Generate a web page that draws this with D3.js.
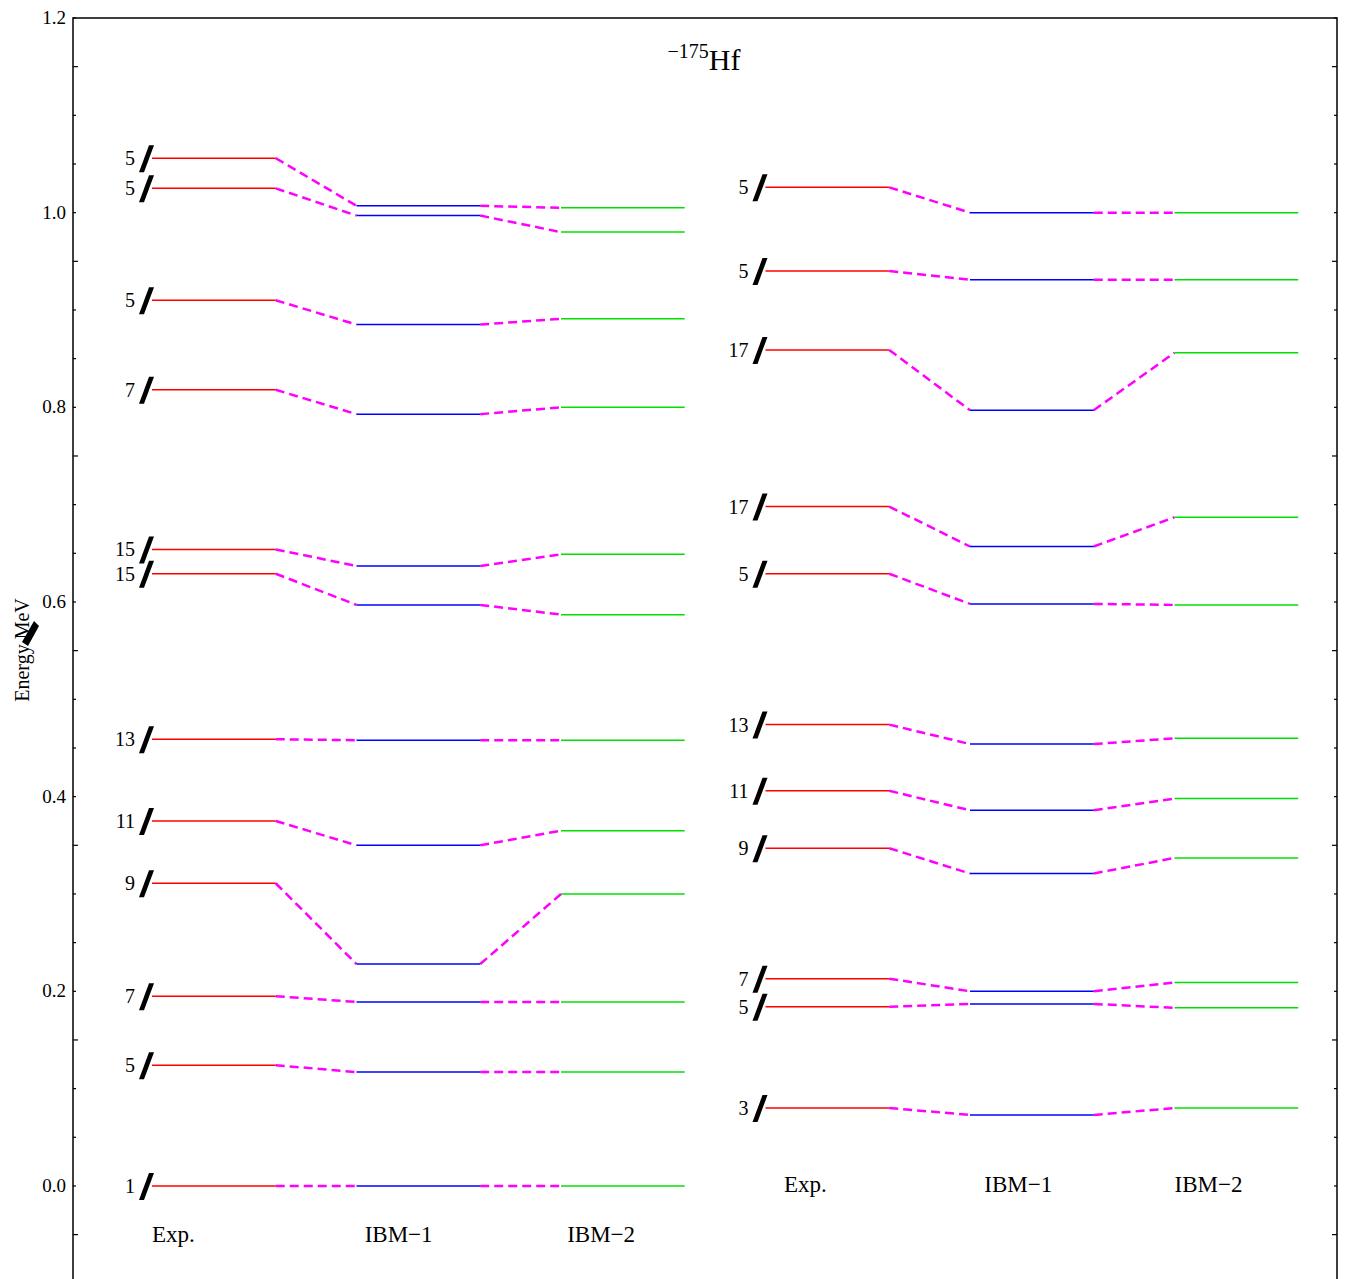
<!DOCTYPE html>
<html>
<head>
<meta charset="utf-8">
<script src="https://cdn.jsdelivr.net/npm/d3@7"></script>
<style>
  body { margin: 0; background: #fff; }
  svg text { font-family: "Liberation Serif", "DejaVu Serif", serif; fill: #000; }
</style>
</head>
<body>
<script>
// level data, energies in MeV
// left panel
const leftSpins = ["5", "5", "5", "7", "15", "15", "13", "11", "9", "7", "5", "1"];
const leftExp  = [1.056, 1.025, 0.910, 0.818, 0.654, 0.629, 0.459, 0.375, 0.311, 0.195, 0.124, 0.000];
const leftIbm1 = [1.007, 0.997, 0.885, 0.793, 0.637, 0.597, 0.458, 0.350, 0.228, 0.189, 0.117, 0.000];
const leftIbm2 = [1.005, 0.980, 0.891, 0.800, 0.649, 0.587, 0.458, 0.365, 0.300, 0.189, 0.117, 0.000];

// right panel
const rightSpins = ["5", "5", "17", "17", "5", "13", "11", "9", "7", "5", "3"];
const rightExp  = [1.026, 0.940, 0.859, 0.698, 0.629, 0.474, 0.406, 0.347, 0.213, 0.184, 0.080];
const rightIbm1 = [1.000, 0.931, 0.797, 0.657, 0.598, 0.454, 0.386, 0.321, 0.200, 0.187, 0.073];
const rightIbm2 = [1.000, 0.931, 0.856, 0.687, 0.597, 0.460, 0.398, 0.337, 0.209, 0.183, 0.080];

const colNames = ["Exp.", "IBM\u22121", "IBM\u22122"];
const yTicks = [0.0, 0.2, 0.4, 0.6, 0.8, 1.0, 1.2];

// dimensions
var width = 1346, height = 1279;
var frame = {left: 73, right: 1337, top: 18};

var svg = d3.select("body").append("svg")
    .attr("width", width)
    .attr("height", height);

var y = d3.scaleLinear().domain([-0.0956, 1.2]).range([1279, frame.top]);
// six level columns, evenly spaced (3 per panel)
var x = d3.scaleLinear().domain([0, 6]).range([152, 1379]);
const colW = 0.605;

// frame
svg.append("path")
    .attr("d", "M" + frame.left + "," + (height + 5) + "V" + frame.top + "H" + frame.right + "V" + (height + 5))
    .attr("fill", "none")
    .attr("stroke", "#000")
    .attr("stroke-width", 1.5);

// ticks (pointing inward on both sides), minor every 0.05
var minor = d3.range(-1, 25).map(function(i) { return i * 0.05; });
minor.forEach(function(v, i) {
    var len = (i + 1) % 4 === 1 ? 5 : 3;
    svg.append("line")
        .attr("x1", frame.left).attr("x2", frame.left + len)
        .attr("y1", y(v)).attr("y2", y(v))
        .attr("stroke", "#000").attr("stroke-width", 1.2);
    svg.append("line")
        .attr("x1", frame.right).attr("x2", frame.right - len)
        .attr("y1", y(v)).attr("y2", y(v))
        .attr("stroke", "#000").attr("stroke-width", 1.2);
});

svg.selectAll(".ytick")
    .data(yTicks)
    .enter()
    .append("text")
    .attr("class", "ytick")
    .attr("x", frame.left - 7)
    .attr("y", function(d) { return y(d) + 6; })
    .attr("text-anchor", "end")
    .style("font-size", "19px")
    .text(function(d) { return d.toFixed(1); });

// y axis label
var yl = svg.append("g").attr("transform", "translate(29,650) rotate(-90)");
yl.append("text")
    .attr("text-anchor", "middle")
    .style("font-size", "20px")
    .text("Energy MeV");
svg.append("path")
    .attr("d", "M22,642 L34,621 L39,626 L28,646 Z")
    .attr("fill", "#000");

// title
var title = svg.append("text")
    .attr("x", 704)
    .attr("y", 70)
    .attr("text-anchor", "middle");
title.append("tspan").style("font-size", "20px").attr("dy", "-12").text("\u2212175");
title.append("tspan").style("font-size", "30px").attr("dy", "12").text("Hf");

// draw one panel
function drawPanel(col0, spins, exp, ibm1, ibm2) {
    var series = [exp, ibm1, ibm2];
    var colors = ["#ff0000", "#0000ff", "#00e000"];
    var g = svg.append("g");

    // connectors
    exp.forEach(function(d, i) {
        for (var k = 0; k < 2; k++) {
            g.append("line")
                .attr("x1", x(col0 + k + colW))
                .attr("y1", y(series[k][i]))
                .attr("x2", x(col0 + k + 1))
                .attr("y2", y(series[k + 1][i]))
                .attr("stroke", "#ff00ff")
                .attr("stroke-width", 2.5)
                .attr("stroke-dasharray", "9,5");
        }
    });

    // levels
    series.forEach(function(s, k) {
        g.selectAll(".lvl" + k)
            .data(s)
            .enter()
            .append("line")
            .attr("x1", x(col0 + k))
            .attr("x2", x(col0 + k + colW))
            .attr("y1", function(d) { return y(d); })
            .attr("y2", function(d) { return y(d); })
            .attr("stroke", colors[k])
            .attr("stroke-width", 1.5);
    });

    // spin labels: number + heavy slash
    var x0 = x(col0);
    exp.forEach(function(d, i) {
        var ly = y(d);
        g.append("text")
            .attr("x", x0 - 17)
            .attr("y", ly + 7)
            .attr("text-anchor", "end")
            .style("font-size", "20px")
            .text(spins[i]);
        g.append("path")
            .attr("d", "M" + (x0 - 3) + "," + (ly - 13) +
                       "L" + (x0 + 2) + "," + (ly - 13) +
                       "L" + (x0 - 8) + "," + (ly + 14) +
                       "L" + (x0 - 13) + "," + (ly + 14) + "Z")
            .attr("fill", "#000");
    });
}

drawPanel(0, leftSpins, leftExp, leftIbm1, leftIbm2);
drawPanel(3, rightSpins, rightExp, rightIbm1, rightIbm2);

// column labels
const colLabelPos = [0.0, 1.04, 2.03, 3.09, 4.07, 5.0];
const colLabelY = [-0.058, -0.058, -0.058, -0.006, -0.006, -0.006];
svg.selectAll(".colname")
    .data(colLabelPos)
    .enter()
    .append("text")
    .attr("class", "colname")
    .attr("x", function(d) { return x(d); })
    .attr("y", function(d, i) { return y(colLabelY[i]); })
    .style("font-size", "23px")
    .text(function(d, i) { return colNames[i % 3]; });
</script>
</body>
</html>
